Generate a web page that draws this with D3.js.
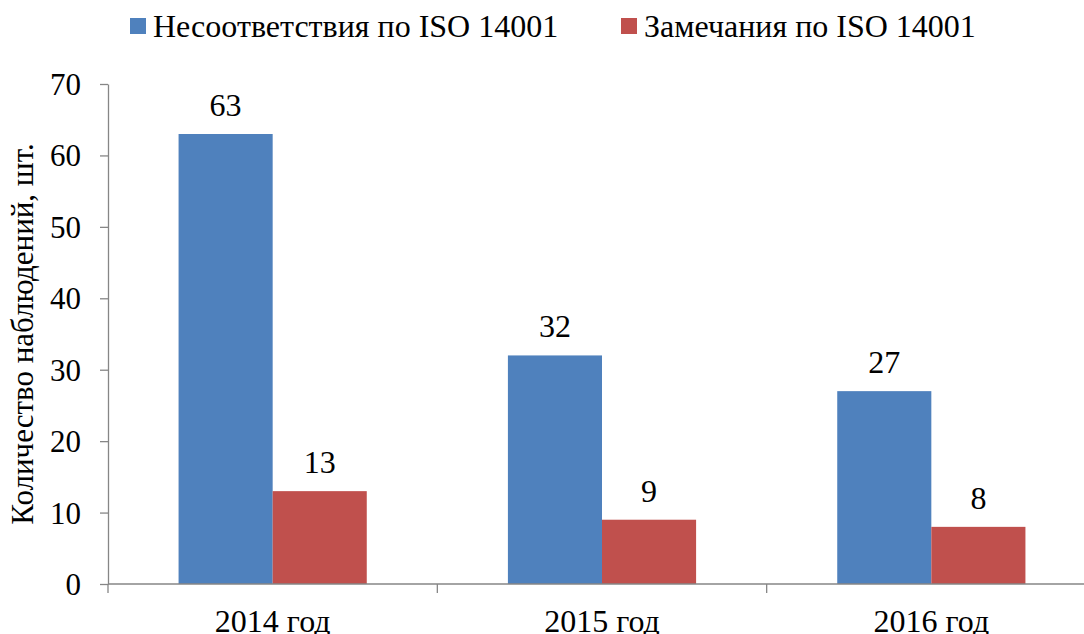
<!DOCTYPE html>
<html>
<head>
<meta charset="utf-8">
<script src="https://cdn.jsdelivr.net/npm/d3@7"></script>
<style>
  html, body { margin: 0; padding: 0; background: #fff; }
  svg { display: block; }
  svg text { font-family: "Liberation Serif", serif; }
</style>
</head>
<body>
<svg id="chart" width="1084" height="634" font-family="serif"></svg>
<script>
// Observations by year
const years = ["2014 год", "2015 год", "2016 год"];
const seriesNames = ["Несоответствия по ISO 14001", "Замечания по ISO 14001"];
const nonconformities = [63, 32, 27];
const remarks = [13, 9, 8];
const yTicks = [0, 10, 20, 30, 40, 50, 60, 70];
const colors = ["#4F81BD", "#C0504D"];

const FS = 32;

const seriesValues = [nonconformities, remarks];
const svg = d3.select("#chart");

const plot = { left: 108, right: 1096, top: 84, bottom: 584 };

const x = d3.scaleBand().domain(years).range([plot.left, plot.right]);
const inner = d3.scaleBand().domain(d3.range(seriesNames.length))
  .range([0, x.bandwidth()]).paddingOuter(0.75).paddingInner(0);
const y = d3.scaleLinear().domain([0, 70]).range([plot.bottom, plot.top]);

const axisColor = "#868686";

function label(sel, size) {
  return sel.attr("font-family", "serif").attr("font-size", size || FS).attr("fill", "#000");
}

// Bars with value labels
years.forEach((yr, i) => {
  seriesValues.forEach((vals, s) => {
    const bx = x(yr) + inner(s);
    svg.append("rect")
      .attr("x", bx)
      .attr("y", y(vals[i]))
      .attr("width", inner.bandwidth())
      .attr("height", y(0) - y(vals[i]))
      .attr("fill", colors[s]);
    svg.append("text")
      .attr("x", bx + inner.bandwidth() / 2)
      .attr("y", y(vals[i]) - 18)
      .attr("text-anchor", "middle")
      .call(label)
      .text(vals[i]);
  });
});

// Y axis
const yAxis = svg.append("g")
  .attr("transform", `translate(${plot.left},0)`)
  .call(d3.axisLeft(y).tickValues(yTicks).tickSize(8).tickPadding(19).tickSizeOuter(0));
yAxis.attr("font-family", "serif").attr("font-size", 31);
yAxis.select(".domain").attr("stroke", axisColor).attr("stroke-width", 1.3);
yAxis.selectAll(".tick line").attr("stroke", axisColor).attr("stroke-width", 1.3);
yAxis.selectAll(".tick text").call(label, 31).attr("dy", "0.34em");

// X axis with category boundary ticks
const xAxisG = svg.append("g").attr("transform", `translate(0,${plot.bottom})`);
xAxisG.append("line")
  .attr("x1", plot.left).attr("x2", plot.right)
  .attr("stroke", axisColor).attr("stroke-width", 1.3);
const boundaries = years.map(d => x(d)).concat([plot.right]);
xAxisG.selectAll("line.tk").data(boundaries).join("line")
  .attr("class", "tk")
  .attr("x1", d => d).attr("x2", d => d)
  .attr("y1", 0).attr("y2", 9)
  .attr("stroke", axisColor).attr("stroke-width", 1.3);
xAxisG.selectAll("text").data(years).join("text")
  .attr("x", d => x(d) + x.bandwidth() / 2)
  .attr("y", 48)
  .attr("text-anchor", "middle")
  .call(label)
  .text(d => d);

// Y axis title
svg.append("text")
  .attr("transform", `translate(33,${(plot.top + plot.bottom) / 2}) rotate(-90)`)
  .attr("text-anchor", "middle")
  .call(label, 31)
  .text("Количество наблюдений, шт.");

// Legend
const legendX = [130, 621];
seriesNames.forEach((name, s) => {
  const g = svg.append("g").attr("transform", `translate(${legendX[s]},0)`);
  g.append("rect").attr("x", 0).attr("y", 18).attr("width", 16).attr("height", 16).attr("fill", colors[s]);
  g.append("text").attr("x", 23).attr("y", 37).call(label).text(name);
});
</script>
</body>
</html>
